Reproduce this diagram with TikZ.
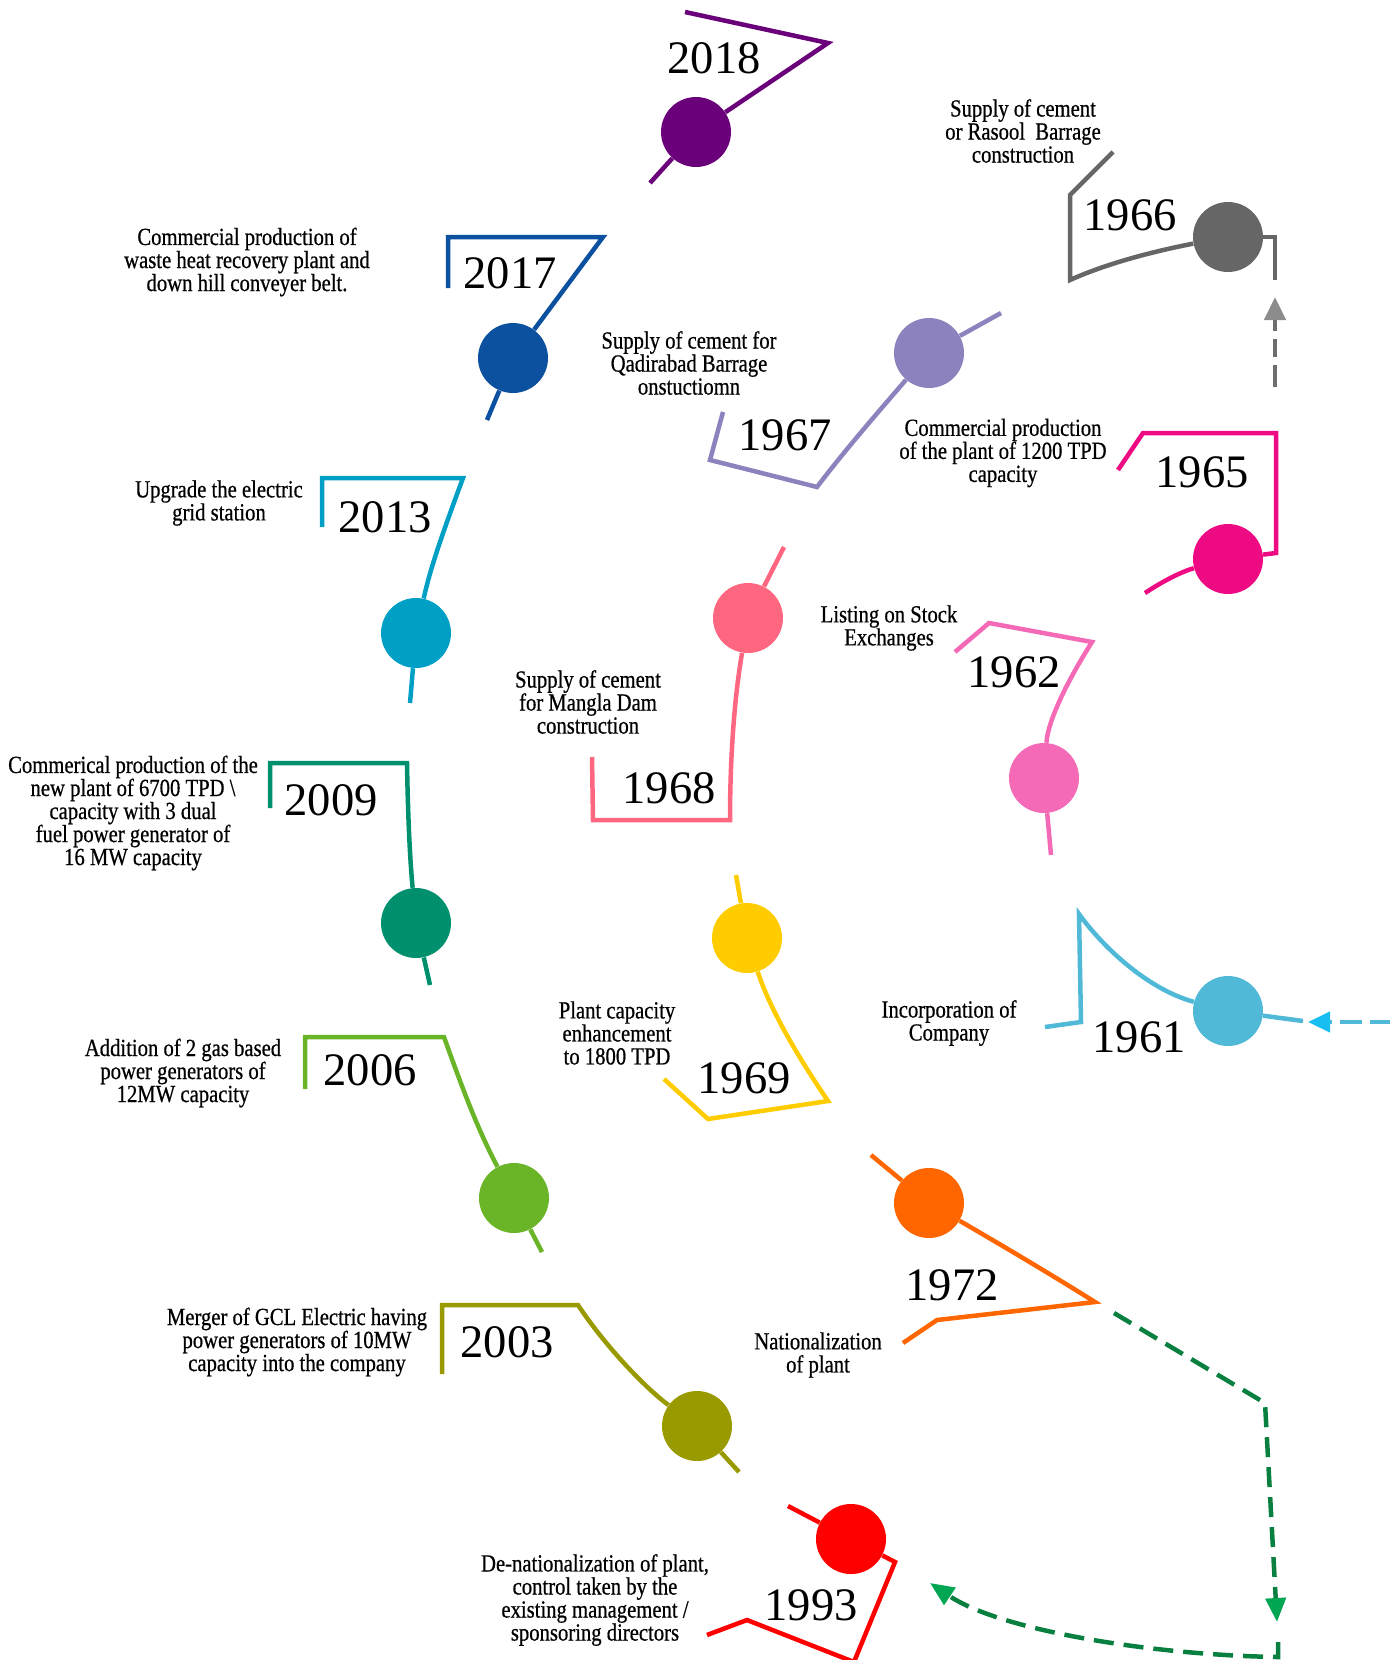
\documentclass[tikz,border=0pt]{standalone}
\usepackage{fontspec}
\setmainfont{Liberation Serif}
\newfontfamily\narrowfont[FakeStretch=0.84,FakeBold=0.6]{Liberation Serif}
\usetikzlibrary{arrows.meta}
\definecolor{c2018}{RGB}{106,0,122}
\definecolor{c2017}{RGB}{12,80,160}
\definecolor{c2013}{RGB}{0,160,198}
\definecolor{c2009}{RGB}{0,144,110}
\definecolor{c2006}{RGB}{106,180,40}
\definecolor{c2003}{RGB}{153,153,0}
\definecolor{c1993}{RGB}{255,0,0}
\definecolor{c1972}{RGB}{255,102,0}
\definecolor{c1969}{RGB}{255,204,0}
\definecolor{c1968}{RGB}{255,102,128}
\definecolor{c1967}{RGB}{139,130,190}
\definecolor{c1966}{RGB}{102,102,102}
\definecolor{c1965}{RGB}{238,10,130}
\definecolor{c1962}{RGB}{244,106,182}
\definecolor{c1961}{RGB}{80,185,215}
\definecolor{flowgreen}{RGB}{10,128,64}
\definecolor{tipgreen}{RGB}{0,166,81}
\definecolor{flowgray}{RGB}{110,110,110}
\definecolor{tipgray}{RGB}{140,140,140}
\definecolor{tipsky}{RGB}{25,190,240}

\begin{document}
\begin{tikzpicture}[x=0.2mm,y=-0.2mm,
  ball/.style={circle,fill,inner sep=0pt,minimum size=14mm},
  arm/.style={line width=0.9mm,line join=miter},
  yr/.style={inner sep=0pt,font=\fontsize{26.5}{28}\selectfont},
  txt/.style={inner sep=0pt,align=center,font=\narrowfont\fontsize{14}{13.1}\selectfont},
  flow/.style={line width=0.9mm,dash pattern=on 4mm off 2mm}]

  \useasboundingbox (0,0) rectangle (1390,1660);

  \node[ball,c2018] at (696,132) (d2018) {};
  \node[ball,c2017] at (513,358) (d2017) {};
  \node[ball,c2013] at (416,633) (d2013) {};
  \node[ball,c2009] at (416,923) (d2009) {};
  \node[ball,c2006] at (514,1198) (d2006) {};
  \node[ball,c2003] at (697,1426) (d2003) {};
  \node[ball,c1993] at (851,1539) (d1993) {};
  \node[ball,c1972] at (929,1203) (d1972) {};
  \node[ball,c1969] at (747,938) (d1969) {};
  \node[ball,c1968] at (748,618) (d1968) {};
  \node[ball,c1967] at (929,353) (d1967) {};
  \node[ball,c1966] at (1228,237) (d1966) {};
  \node[ball,c1965] at (1228,559) (d1965) {};
  \node[ball,c1962] at (1044,778) (d1962) {};
  \node[ball,c1961] at (1228,1011) (d1961) {};

  \node[yr] at (714,58) (y2018) {2018};
  \node[yr] at (510,273) (y2017) {2017};
  \node[yr] at (385,517) (y2013) {2013};
  \node[yr] at (331,800) (y2009) {2009};
  \node[yr] at (370,1070) (y2006) {2006};
  \node[yr] at (507,1342) (y2003) {2003};
  \node[yr] at (811,1605) (y1993) {1993};
  \node[yr] at (952,1285) (y1972) {1972};
  \node[yr] at (744,1078) (y1969) {1969};
  \node[yr] at (669,788) (y1968) {1968};
  \node[yr] at (785,435) (y1967) {1967};
  \node[yr] at (1130,215) (y1966) {1966};
  \node[yr] at (1202,472) (y1965) {1965};
  \node[yr] at (1014,672) (y1962) {1962};
  \node[yr] at (1139,1037) (y1961) {1961};

  \node[txt] at (247,262) (t2017) {Commercial production of\\waste heat recovery plant and\\down hill conveyer belt.};
  \node[txt] at (219,503) (t2013) {Upgrade the electric\\grid station};
  \node[txt] at (133,813) (t2009) {Commerical production of the\\new plant of 6700 TPD \textbackslash\\capacity with 3 dual\\fuel power generator of\\16 MW capacity};
  \node[txt] at (183,1073) (t2006) {Addition of 2 gas based\\power generators of\\12MW capacity};
  \node[txt] at (297,1342) (t2003) {Merger of GCL Electric having\\power generators of 10MW\\capacity into the company};
  \node[txt] at (595,1600) (t1993) {De-nationalization of plant,\\control taken by the\\existing management /\\sponsoring directors};
  \node[txt] at (818,1355) (t1972) {Nationalization\\of plant};
  \node[txt] at (617,1033) (t1969) {Plant capacity\\enhancement\\to 1800 TPD};
  \node[txt] at (588,702) (t1968) {Supply of cement\\for Mangla Dam\\construction};
  \node[txt] at (689,363) (t1967) {Supply of cement for\\Qadirabad Barrage\\onstuctiomn};
  \node[txt] at (1023,131) (t1966) {Supply of cement\\or Rasool\ \ Barrage\\construction};
  \node[txt] at (1003,453) (t1965) {Commercial production\\of the plant of 1200 TPD\\capacity};
  \node[txt] at (889,628) (t1962) {Listing on Stock\\Exchanges};
  \node[txt] at (949,1023) (t1961) {Incorporation of\\Company};

  \draw[arm,c2018] (685,12) -- (828,43) -- (d2018); \draw[arm,c2018] (d2018) -- (650,183);
  \draw[arm,c2017] (448,288) -- (448,237) -- (603,237) -- (d2017); \draw[arm,c2017] (d2017) -- (487,420);
  \draw[arm,c2013] (322,527) -- (322,478) -- (463,478) .. controls (440,540) and (430,570) .. (d2013); \draw[arm,c2013] (d2013) -- (410,703);
  \draw[arm,c2009] (270,808) -- (270,763) -- (407,763) .. controls (408,820) and (410,860) .. (d2009); \draw[arm,c2009] (d2009) -- (430,985);
  \draw[arm,c2006] (305,1089) -- (305,1037) -- (444,1037) .. controls (463,1090) and (478,1130) .. (d2006); \draw[arm,c2006] (d2006) -- (542,1252);
  \draw[arm,c2003] (442,1374) -- (442,1305) -- (578,1305) .. controls (608,1350) and (648,1390) .. (d2003); \draw[arm,c2003] (d2003) -- (739,1472);
  \draw[arm,c1993] (788,1506) -- (d1993); \draw[arm,c1993] (d1993) -- (895,1562) -- (854,1662) -- (747,1620) -- (707,1635);
  \draw[arm,c1972] (871,1155) -- (d1972); \draw[arm,c1972] (d1972) .. controls (1010,1250) and (1060,1280) .. (1095,1302) -- (937,1320) -- (903,1343);
  \draw[arm,c1969] (736,875) -- (d1969); \draw[arm,c1969] (d1969) .. controls (770,1010) and (800,1060) .. (828,1101) -- (708,1119) -- (664,1079);
  \draw[arm,c1968] (784,547) -- (d1968); \draw[arm,c1968] (d1968) .. controls (734,700) and (730,760) .. (730,820) -- (593,820) -- (592,757);
  \draw[arm,c1967] (723,412) -- (710,460) -- (817,487) .. controls (845,450) and (880,410) .. (d1967); \draw[arm,c1967] (d1967) -- (1001,313);
  \draw[arm,c1966] (1113,152) -- (1070,195) -- (1070,280) .. controls (1110,262) and (1160,250) .. (d1966); \draw[arm,c1966] (d1966) -- (1275,237) -- (1275,280);
  \draw[arm,c1965] (1118,470) -- (1143,433) -- (1276,433) -- (1276,553) -- (d1965); \draw[arm,c1965] (d1965) .. controls (1180,572) and (1160,583) .. (1145,593);
  \draw[arm,c1962] (955,652) -- (989,623) -- (1092,642) .. controls (1068,680) and (1048,720) .. (d1962); \draw[arm,c1962] (d1962) -- (1051,855);
  \draw[arm,c1961] (1045,1027) -- (1081,1022) -- (1079,914) .. controls (1105,950) and (1150,990) .. (d1961); \draw[arm,c1961] (d1961) -- (1303,1021);

  \coordinate (g0) at (1114,1313);
  \coordinate (g1) at (1265,1403);
  \coordinate (g2) at (1277,1622);
  \coordinate (g3) at (1278,1642);
  \coordinate (g4) at (930,1583);
  \coordinate (s0) at (1392,1022);
  \coordinate (s1) at (1308,1022);
  \coordinate (k0) at (1275,387);
  \coordinate (k1) at (1275,297);

  \draw[flow,flowgreen,-{Triangle[length=4.8mm,width=4mm,color=tipgreen]}] (g0) -- (g1) -- (g2);
  \draw[flow,flowgreen,-{Triangle[length=4.8mm,width=4mm,color=tipgreen]}] (g3) -- (1278,1657) .. controls (1150,1655) and (1000,1630) .. (g4);
  \draw[flow,c1961,dash pattern=on 4.5mm off 1.5mm,-{Triangle[length=4.4mm,width=4mm,color=tipsky]}] (s0) -- (s1);
  \draw[flow,flowgray,dash pattern=on 4.5mm off 1.6mm on 3.6mm off 1.6mm,-{Triangle[length=4.6mm,width=4.2mm,color=tipgray]}] (k0) -- (k1);

\end{tikzpicture}
\end{document}
